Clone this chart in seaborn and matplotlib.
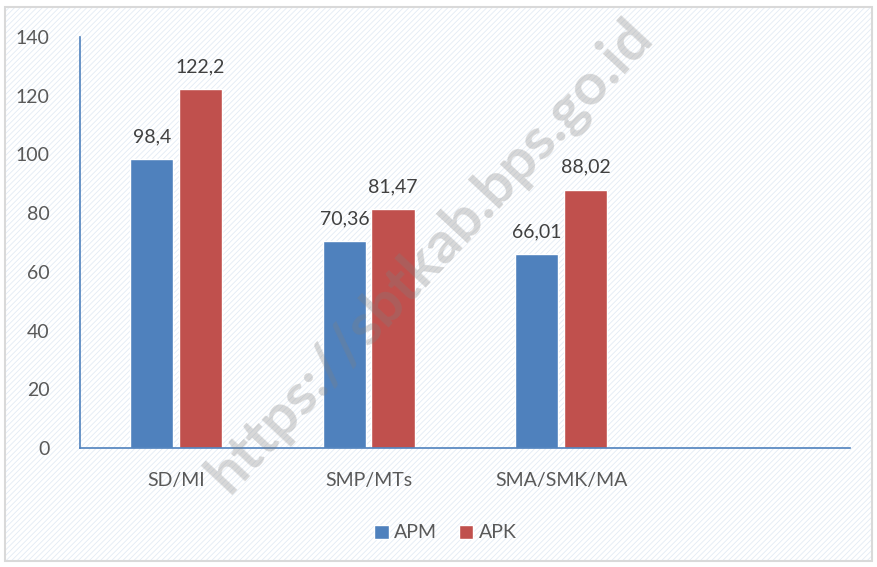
import matplotlib
matplotlib.use("Agg")
import matplotlib.pyplot as plt
import matplotlib.patches as mpatches
import seaborn as sns
import pandas as pd

# ─── Data ───────────────────────────────────────────────────────────────────
categories = ["SD/MI", "SMP/MTs", "SMA/SMK/MA"]
apm = [98.4, 70.36, 66.01]
apk = [122.2, 81.47, 88.02]
apm_labels = ["98,4", "70,36", "66,01"]
apk_labels = ["122,2", "81,47", "88,02"]
series = ["APM", "APK"]
colors = ["#4F81BD", "#C0504D"]

df = pd.DataFrame({
    "kategori": categories * 2,
    "seri": [series[0]] * 3 + [series[1]] * 3,
    "nilai": apm + apk,
})

# ─── Plot ───────────────────────────────────────────────────────────────────
sns.set_style("white")
plt.rcParams["font.family"] = ["Lato", "DejaVu Sans"]
plt.rcParams["hatch.linewidth"] = 0.6
text_color = "#595959"

fig = plt.figure(figsize=(8.77, 5.67), dpi=100)
fig.patch.set_facecolor("white")

# hatched background + thin border
hatch = mpatches.Rectangle((0.006, 0.01), 0.988, 0.978, transform=fig.transFigure,
                           facecolor="white", edgecolor="#e3ebf5", hatch="//////",
                           linewidth=0, zorder=0)
fig.patches.append(hatch)
border = mpatches.Rectangle((0.006, 0.01), 0.988, 0.978, transform=fig.transFigure,
                            facecolor="none", edgecolor="#d9d9d9", linewidth=1.5,
                            zorder=0)
fig.patches.append(border)

ax = fig.add_axes([0.0912, 0.2099, 0.878, 0.7249])
ax.set_facecolor("none")
ax.set_zorder(2)

sns.barplot(data=df, x="kategori", y="nilai", hue="seri", order=categories,
            hue_order=series, palette=colors, width=0.504, gap=0.113,
            saturation=1, ax=ax, legend=True)

for cont, labs in zip(ax.containers, [apm_labels, apk_labels]):
    ax.bar_label(cont, labels=labs, padding=10, fontsize=14, color="#404040")

ax.set_xlim(-0.5, 3.5)
ax.set_ylim(0, 140)
ax.set_yticks(range(0, 141, 20))
ax.set_xlabel("")
ax.set_ylabel("")
ax.tick_params(axis="both", length=0, labelsize=14, colors=text_color)
ax.tick_params(axis="x", pad=17)
ax.tick_params(axis="y", pad=22)
for lab in ax.get_yticklabels():
    lab.set_horizontalalignment("right")

sns.despine(ax=ax)
ax.spines["left"].set_color("#4F81BD")
ax.spines["bottom"].set_color("#4F81BD")
ax.spines["left"].set_linewidth(1.2)
ax.spines["bottom"].set_linewidth(1.2)

handles, labels = ax.get_legend_handles_labels()
ax.legend_.remove()
fig.legend(handles, labels, loc="center", bbox_to_anchor=(0.508, 0.06), ncol=2,
           frameon=False, fontsize=14, handlelength=0.75, handleheight=0.75,
           handletextpad=0.3, columnspacing=1.1, labelcolor=text_color)

# watermark
wm = fig.text(0.49, 0.55, "https://sbtkab.bps.go.id", rotation=47, fontsize=42,
              fontweight="bold", color="#7f7f7f", alpha=0.3, ha="center",
              va="center")
wm.set_zorder(10)

fig.savefig("out.png", dpi=100)
plt.close(fig)
